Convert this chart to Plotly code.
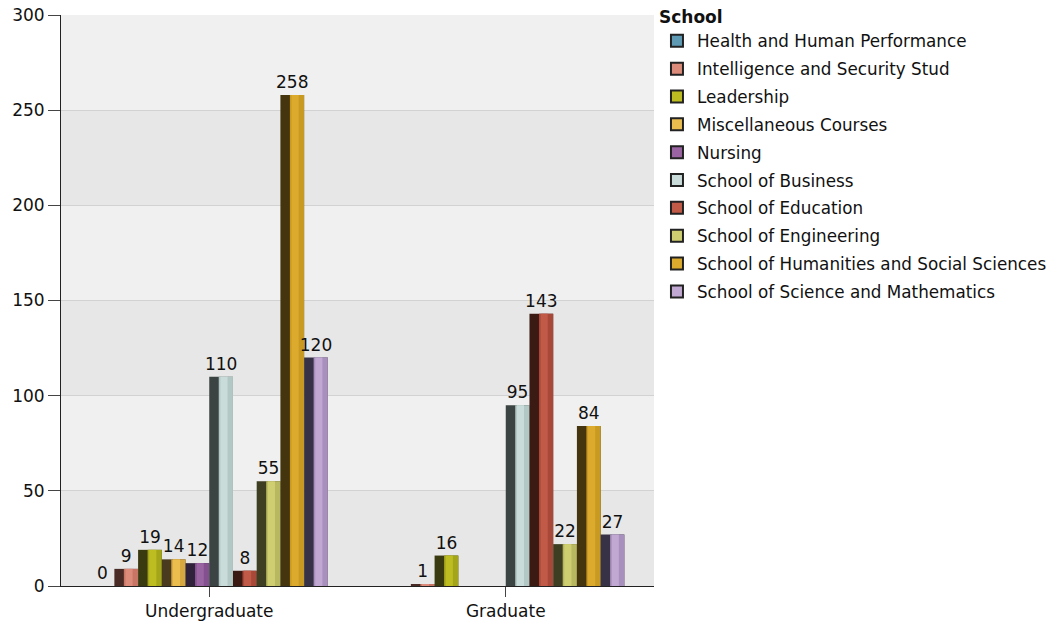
import plotly.graph_objects as go

levels = ["Undergraduate", "Graduate"]
schools = [
    "Health and Human Performance",
    "Intelligence and Security Stud",
    "Leadership",
    "Miscellaneous Courses",
    "Nursing",
    "School of Business",
    "School of Education",
    "School of Engineering",
    "School of Humanities and Social Sciences",
    "School of Science and Mathematics",
]
undergrad = [0, 9, 19, 14, 12, 110, 8, 55, 258, 120]
graduate = [None, 1, 16, None, None, 95, 143, 22, 84, 27]

light_colors = ["#5f9ab4", "#dc8a7a", "#bdbd22", "#ebbd4e", "#9a64a2",
                "#c9dcd9", "#c25a48", "#cfcf72", "#dcaa2c", "#c0a8d2"]
dark_colors = ["#22363f", "#4a2a25", "#3a3a10", "#4a3a1e", "#30223a",
               "#3b4442", "#3c1a14", "#3e3e22", "#45350f", "#383246"]
mid_colors = ["#4c8099", "#c87565", "#a5a51a", "#d8a840", "#84508e",
              "#b2c8c4", "#a84838", "#b8b860", "#c89a22", "#a890bc"]

FONT = "DejaVu Sans"
FS = 17
FS_LEG = 16.8
fig = go.Figure()

n = len(schools)
group_w = 0.8
slot = group_w / n

for i, name in enumerate(schools):
    vals = [undergrad[i], graduate[i]]
    start = -group_w / 2 + i * slot
    fig.add_trace(go.Bar(
        x=levels, y=vals, name=name, showlegend=False,
        offset=start, width=slot,
        marker=dict(color=dark_colors[i], line=dict(width=0)),
        text=[("" if v is None else str(v)) for v in vals],
        textposition="outside", cliponaxis=False, constraintext="none",
        textangle=0,
        textfont=dict(family=FONT, size=FS, color="#111111"),
        hoverinfo="skip",
    ))
    fig.add_trace(go.Bar(
        x=levels, y=vals, showlegend=False,
        offset=start + slot * 0.4, width=slot * 0.6,
        marker=dict(color=mid_colors[i], line=dict(width=0)),
        hoverinfo="skip",
    ))
    fig.add_trace(go.Bar(
        x=levels, y=vals, showlegend=False,
        offset=start + slot * 0.47, width=slot * 0.3,
        marker=dict(color=light_colors[i], line=dict(width=0)),
        hoverinfo="skip",
    ))

for i, name in enumerate(schools):
    fig.add_trace(go.Bar(
        x=levels, y=[None, None], name=name, showlegend=True,
        legendgroup="g%d" % i,
        marker=dict(color=light_colors[i], line=dict(width=1.5, color="#222222")),
    ))

shapes = []
for k in range(6):
    shapes.append(dict(type="rect", xref="paper", yref="y", x0=0, x1=1,
                       y0=k * 50, y1=(k + 1) * 50, layer="below",
                       fillcolor="#e7e7e7" if k % 2 == 0 else "#f0f0f0",
                       line=dict(width=0)))

fig.update_layout(
    width=1056, height=630,
    barmode="overlay",
    plot_bgcolor="#f0f0f0", paper_bgcolor="white",
    margin=dict(l=61, r=402, t=15, b=44, autoexpand=False),
    font=dict(family=FONT, size=FS, color="#111111"),
    shapes=shapes,
    showlegend=True,
    legend=dict(
        title=dict(text="<b>School</b>", font=dict(family=FONT, size=FS)),
        x=1.005, xanchor="left", y=1.024, yanchor="top",
        font=dict(family=FONT, size=FS_LEG), bgcolor="rgba(0,0,0,0)",
        traceorder="grouped", tracegroupgap=3, itemsizing="constant",
    ),
    xaxis=dict(
        type="category", showline=True, linecolor="#222222", linewidth=1,
        ticks="outside", ticklen=10, tickcolor="#444444", automargin=False,
        tickfont=dict(family=FONT, size=FS), showgrid=False,
    ),
    yaxis=dict(
        range=[0, 300], dtick=50, showline=True, linecolor="#222222", linewidth=1,
        ticks="outside", ticklen=12, tickcolor="#444444", automargin=False,
        ticklabeloverflow="allow",
        gridcolor="#d2d2d2", gridwidth=1, zeroline=False,
        tickfont=dict(family=FONT, size=FS),
    ),
)

fig.write_html("out.html", config={"displayModeBar": False},
               post_script="document.body.style.margin='0';document.body.style.overflow='hidden';")
